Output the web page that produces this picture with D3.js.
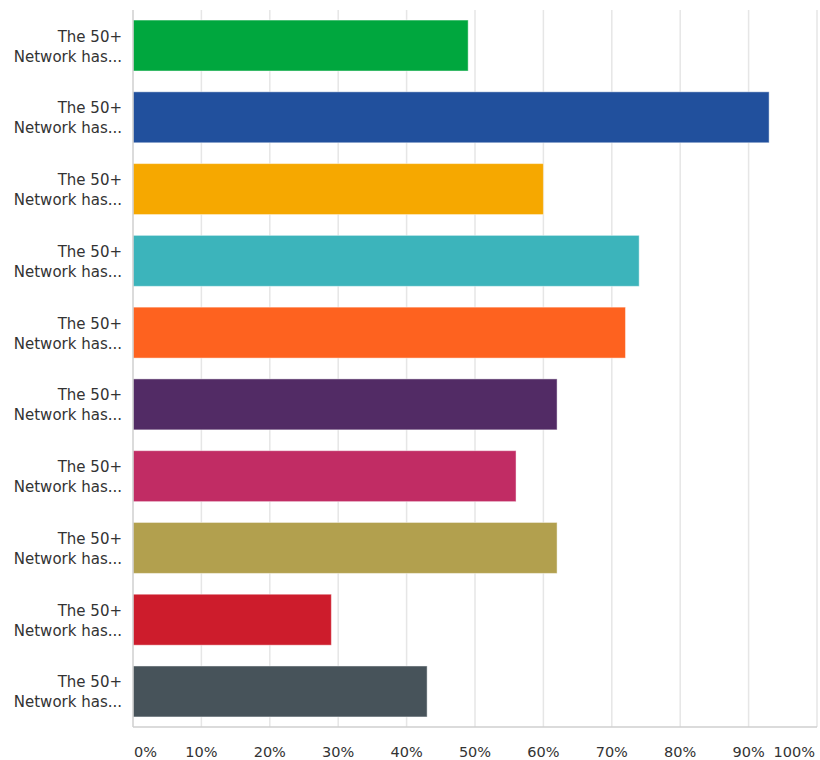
<!DOCTYPE html>
<html>
<head>
<meta charset="utf-8">
<script src="https://cdn.jsdelivr.net/npm/d3@7"></script>
<style>
  body { margin: 0; background: #fff; }
  text { font-family: "DejaVu Sans", "Open Sans", sans-serif; }
</style>
</head>
<body>
<div class="chart"></div>
<script>
const width = 820;
const height = 760;

// answer options (all truncated the same way in the source)
const categories = ["a1", "a2", "a3", "a4", "a5", "a6", "a7", "a8", "a9", "a10"];
const labelLines = ["The 50+", "Network has..."];
const values = [0.49, 0.93, 0.60, 0.74, 0.72, 0.62, 0.56, 0.62, 0.29, 0.43];
const colors = ["#00a73e", "#21509d", "#f6a800", "#3cb4bb", "#fe621f", "#522b65", "#c12c64", "#b2a04e", "#cd1c2c", "#47535a"];
const ticks = [0, 0.1, 0.2, 0.3, 0.4, 0.5, 0.6, 0.7, 0.8, 0.9, 1];

const margin = { top: 10, right: 3, bottom: 33, left: 133 };

const svg = d3.select(".chart")
  .append("svg")
  .attr("width", width)
  .attr("height", height);

const x = d3.scaleLinear()
  .domain([0, 1])
  .range([margin.left, width - margin.right]);

const y = d3.scaleBand()
  .domain(categories)
  .range([margin.top, height - margin.bottom])
  .paddingInner(0.29)
  .paddingOuter(0.14);

// vertical grid
svg.append("g")
  .selectAll("line")
  .data(ticks.slice(1))
  .join("line")
  .attr("x1", d => x(d))
  .attr("x2", d => x(d))
  .attr("y1", margin.top)
  .attr("y2", height - margin.bottom)
  .attr("stroke", "#e6e6e6")
  .attr("stroke-width", 1.5);

// bars
svg.append("g")
  .selectAll("rect")
  .data(values)
  .join("rect")
  .attr("x", x(0))
  .attr("y", (d, i) => y(categories[i]))
  .attr("width", d => x(d) - x(0))
  .attr("height", y.bandwidth())
  .attr("fill", (d, i) => colors[i])
  .attr("stroke", "rgba(255,255,255,0.45)")
  .attr("stroke-width", 1);

// axis lines
svg.append("line")
  .attr("x1", x(0)).attr("x2", x(1))
  .attr("y1", height - margin.bottom).attr("y2", height - margin.bottom)
  .attr("stroke", "#cfcfcf")
  .attr("stroke-width", 1.5);

svg.append("line")
  .attr("x1", x(0)).attr("x2", x(0))
  .attr("y1", margin.top).attr("y2", height - margin.bottom)
  .attr("stroke", "#cfcfcf")
  .attr("stroke-width", 1.5);

// category labels
const lab = svg.append("g")
  .selectAll("text")
  .data(categories)
  .join("text")
  .attr("text-anchor", "end")
  .attr("fill", "#333")
  .attr("font-size", 15);

lab.each(function (d) {
  const cy = y(d) + y.bandwidth() / 2;
  d3.select(this).selectAll("tspan")
    .data(labelLines)
    .join("tspan")
    .attr("x", 122)
    .attr("y", (t, j) => cy - 4 + j * 20)
    .text(t => t);
});

// x tick labels, end labels nudged inward
svg.append("g")
  .selectAll("text")
  .data(ticks)
  .join("text")
  .attr("x", (d, i) => i === 0 ? x(d) + 1 : i === ticks.length - 1 ? x(d) - 2 : x(d))
  .attr("y", height - 3)
  .attr("text-anchor", (d, i) => i === 0 ? "start" : i === ticks.length - 1 ? "end" : "middle")
  .attr("fill", "#333")
  .attr("font-size", 14.5)
  .text(d => d3.format(".0%")(d));
</script>
</body>
</html>
